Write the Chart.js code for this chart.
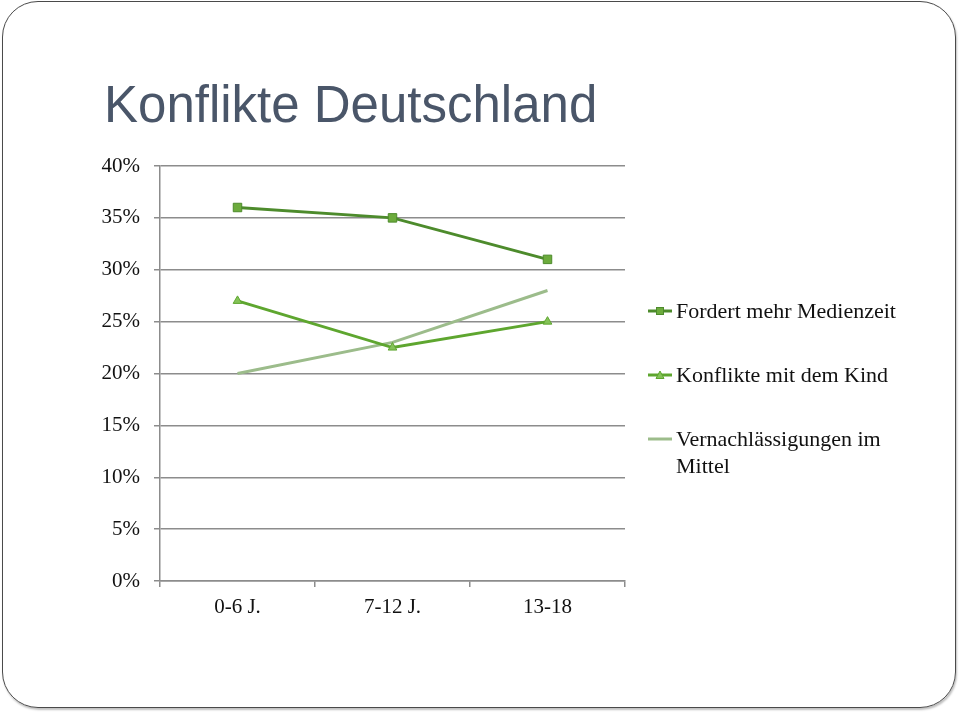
<!DOCTYPE html>
<html>
<head>
<meta charset="utf-8">
<script src="https://cdn.jsdelivr.net/npm/chart.js@4/dist/chart.umd.min.js"></script>
<style>
  html, body { margin: 0; padding: 0; background: #fff; }
  #slide { position: relative; width: 960px; height: 712px; overflow: hidden; }
  #frame {
    position: absolute; left: 2px; top: 1px; width: 952px; height: 705px;
    border: 1.5px solid #4a4a4a; border-radius: 36px;
    box-shadow: 1px 2px 2px rgba(0,0,0,0.25);
  }
  #title {
    position: absolute; left: 104px; top: 79px; margin: 0;
    font: 51px "Liberation Sans", Arial, sans-serif; line-height: 51px;
    color: #4a5669; font-weight: normal; white-space: nowrap;
  }
  #chart { position: absolute; left: 0; top: 0; }
  #legend {
    position: absolute; left: 648px; top: 297px; width: 260px;
    font: 22px "Liberation Serif", "Times New Roman", serif; color: #111; line-height: 27px;
  }
  .item { position: relative; padding-left: 28px; margin-bottom: 37px; }
  .item svg { position: absolute; left: 0; top: 8px; }
</style>
</head>
<body>
<div id="slide">
  <div id="frame"></div>
  <h1 id="title">Konflikte Deutschland</h1>
  <canvas id="chart" width="960" height="712"></canvas>
  <div id="legend"></div>
</div>
<script>
// Daten
const categories = ['0-6 J.', '7-12 J.', '13-18'];
const seriesNames = ['Fordert mehr Medienzeit', 'Konflikte mit dem Kind', 'Vernachlässigungen im Mittel'];
const medienzeit = [36, 35, 31];
const konflikte = [27, 22.5, 25];
const vernachlaessigung = [20, 23, 28];
const yMin = 0;
const yMax = 40;
const yStep = 5;

const lineColors = ['#4d8b2c', '#5ea62f', '#9cbc8b'];
const pointFills = ['#6cab3c', '#84c257', null];
const pointStyles = ['rect', 'triangle', false];

const gridColor = '#8c8c8c';
const tickFont = { family: '"Liberation Serif", "Times New Roman", serif', size: 21 };

const ctx = document.getElementById('chart').getContext('2d');
const chart = new Chart(ctx, {
  type: 'line',
  data: {
    labels: categories,
    datasets: [
      {
        label: seriesNames[0],
        data: medienzeit,
        borderColor: lineColors[0],
        borderWidth: 3,
        pointStyle: pointStyles[0],
        pointRadius: 6,
        pointBackgroundColor: pointFills[0],
        pointBorderColor: lineColors[0],
        pointBorderWidth: 1
      },
      {
        label: seriesNames[1],
        data: konflikte,
        borderColor: lineColors[1],
        borderWidth: 3,
        pointStyle: pointStyles[1],
        pointRadius: 5,
        pointBackgroundColor: pointFills[1],
        pointBorderColor: lineColors[1],
        pointBorderWidth: 1
      },
      {
        label: seriesNames[2],
        data: vernachlaessigung,
        borderColor: lineColors[2],
        borderWidth: 3,
        pointRadius: 0
      }
    ]
  },
  options: {
    responsive: false,
    animation: false,
    layout: { padding: { left: 0, top: 166, right: 335, bottom: 71 } },
    plugins: { legend: { display: false }, tooltip: { enabled: false } },
    scales: {
      x: {
        offset: true,
        grid: { offset: true, drawOnChartArea: false, drawTicks: true, tickLength: 6, color: gridColor, lineWidth: 1.5 },
        border: { color: gridColor, width: 1.5 },
        ticks: { font: tickFont, color: '#111', padding: 8, maxRotation: 0 },
        afterFit: function(scale) { scale.height = 60; }
      },
      y: {
        min: yMin,
        max: yMax,
        grid: { color: gridColor, lineWidth: 1.5, tickLength: 6 },
        border: { color: gridColor, width: 1.5 },
        ticks: {
          stepSize: yStep,
          font: tickFont,
          color: '#111',
          padding: 14,
          callback: function(value) { return value + '%'; }
        },
        afterFit: function(scale) { scale.width = 160; }
      }
    }
  }
});

// Legende als HTML (Zeilenumbruch wie im Original)
function swatch(i) {
  const c = lineColors[i];
  let marker = '';
  if (pointStyles[i] === 'rect') {
    marker = '<rect x="8.5" y="2.5" width="7" height="7" fill="' + pointFills[i] + '" stroke="' + c + '" stroke-width="1"/>';
  } else if (pointStyles[i] === 'triangle') {
    marker = '<polygon points="12,2 16,9.5 8,9.5" fill="' + pointFills[i] + '" stroke="' + c + '" stroke-width="1"/>';
  }
  return '<svg width="24" height="12"><line x1="0" y1="6" x2="24" y2="6" stroke="' + c + '" stroke-width="3"/>' + marker + '</svg>';
}

const legend = document.getElementById('legend');
chart.data.datasets.forEach(function(ds, i) {
  const div = document.createElement('div');
  div.className = 'item';
  div.innerHTML = swatch(i) + '<span>' + ds.label + '</span>';
  legend.appendChild(div);
});
</script>
</body>
</html>
